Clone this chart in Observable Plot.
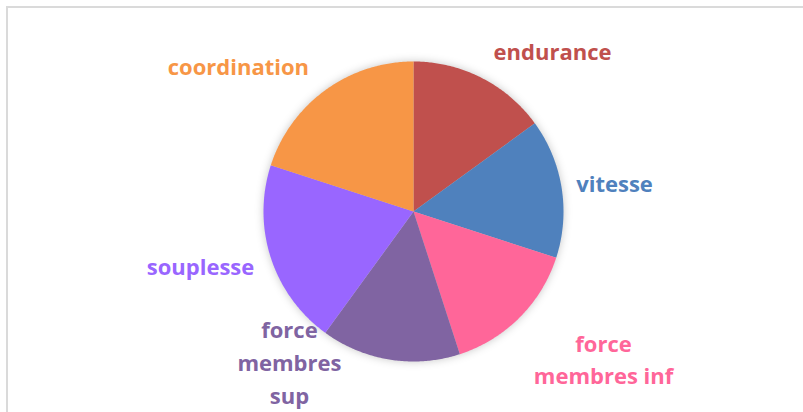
<!DOCTYPE html>
<html>
<head>
<meta charset="utf-8">
<script src="https://cdn.jsdelivr.net/npm/d3@7"></script>
<script src="https://cdn.jsdelivr.net/npm/@observablehq/plot@0.6"></script>
<style>
  html, body { margin: 0; padding: 0; background: #fff; }
  #wrap { position: relative; width: 803px; height: 412px; overflow: hidden; }
  #border { position: absolute; left: 6px; top: 6px; width: 900px; height: 500px;
            border-top: 2px solid #dadada; border-left: 2px solid #dadada; box-sizing: border-box; }
  #chart { position: absolute; left: 0; top: 0; }
  #chart g[aria-label="line"] { filter: drop-shadow(0px 0px 4px rgba(0,0,0,0.22)); }
</style>
</head>
<body>
<div id="wrap"><div id="border"></div><div id="chart"></div></div>
<script>
// Data
const categories = ["endurance", "vitesse", "force membres inf", "force membres sup", "souplesse", "coordination"];
const values = [15, 15, 15, 15, 20, 20];
const colors = ["#C0504D", "#4F81BD", "#FF6699", "#8064A2", "#9966FF", "#F79646"];

// Label layout (in chart units, radius = 1)
const labelX = [0.927, 1.34, 1.267, -0.827, -1.42, -1.167];
const labelY = [1.08, 0.20, -0.973, -0.993, -0.353, 0.98];
const labelLines = [["endurance"], ["vitesse"], ["force", "membres inf"], ["force", "membres", "sup"], ["souplesse"], ["coordination"]];

const pie = d3.pie().sort(null).value(d => d)(values);
const pts = [];
pie.forEach((p, i) => {
  const n = Math.max(2, Math.ceil((p.endAngle - p.startAngle) / 0.01));
  pts.push({cat: categories[i], x: 0, y: 0});
  for (let k = 0; k <= n; k++) {
    const a = p.startAngle + (p.endAngle - p.startAngle) * k / n;
    pts.push({cat: categories[i], x: Math.sin(a), y: Math.cos(a)});
  }
  pts.push({cat: categories[i], x: 0, y: 0});
});

const labels = categories.map((c, i) => ({cat: c, x: labelX[i], y: labelY[i], text: labelLines[i].join("\n")}));

const chart = Plot.plot({
  width: 803,
  height: 412,
  marginLeft: 263,
  marginRight: 240,
  marginTop: 61,
  marginBottom: 51,
  x: {domain: [-1, 1], axis: null},
  y: {domain: [-1, 1], axis: null},
  color: {domain: categories, range: colors},
  style: {background: "transparent", overflow: "visible"},
  marks: [
    Plot.line(pts, {x: "x", y: "y", z: "cat", fill: "cat", stroke: "none", curve: "linear"}),
    Plot.text(labels, {x: "x", y: "y", text: "text", fill: "cat", fontSize: 22, fontWeight: "bold",
      fontFamily: "'Open Sans', Lato, sans-serif", lineHeight: 1.5, textAnchor: "middle"})
  ]
});
document.getElementById("chart").appendChild(chart);
</script>
</body>
</html>
